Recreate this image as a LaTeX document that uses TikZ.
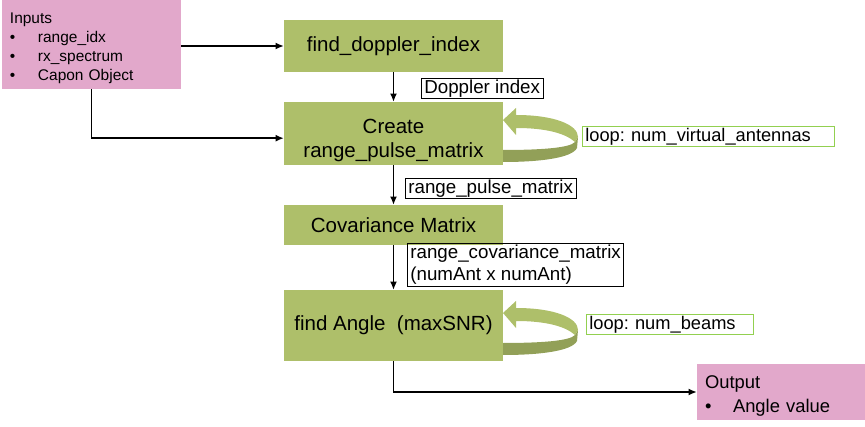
\documentclass[tikz,border=0pt]{standalone}
\usepackage{fontspec}
\setmainfont{Liberation Sans}
\usepackage{tikz}
\usetikzlibrary{arrows.meta,positioning}
\frenchspacing

\definecolor{boxgreen}{RGB}{174,191,106}
\definecolor{loopdark}{RGB}{146,160,88}
\definecolor{inpink}{RGB}{226,168,203}
\definecolor{tagline}{RGB}{146,208,80}

\newcommand{\bulletitem}{\makebox[0.84cm][l]{\textbullet}}

\begin{document}
\begin{tikzpicture}[x=0.03cm, y=-0.03cm,
stage/.style={rectangle, fill=boxgreen, minimum width=6.57cm, align=center, inner sep=0pt, font=\fontsize{17.5}{21.3}\selectfont},
io/.style={rectangle, fill=inpink, align=left, inner xsep=0.24cm, inner ysep=0pt, font=\fontsize{13.2}{16.2}\selectfont},
tag/.style={rectangle, draw, line width=0.6pt, align=left, inner xsep=0.09cm, inner ysep=1.2pt, font=\fontsize{16}{18.8}\selectfont},
looptag/.style={tag, draw=tagline, font=\fontsize{15.6}{18.5}\selectfont},
flow/.style={-{Latex[length=7pt,width=6pt]}, line width=1.2pt},
loopback/.pic={
  \fill[loopdark] (75,17) -- (74,28) .. controls (69,38) and (37,42) .. (0,42) -- (0,30) .. controls (37,30) and (67,28) .. (72,22) -- cycle;
  \fill[boxgreen] (0,0) -- (13,-12) -- (13,-5) .. controls (52,-5) and (75,5) .. (75,17) -- (72,22) .. controls (62,13) and (42,8) .. (13,8) -- (13,15) -- cycle;
}
]
\useasboundingbox (0,0) rectangle (865,427);
\node[io, minimum width=5.37cm, minimum height=2.67cm, text width=4.89cm] (inputs) at (91.5,44.5)
  {\raisebox{-0.1cm}[\height][\depth]{\begin{tabular}{@{}l@{}}Inputs\\\bulletitem range\_idx\\\bulletitem rx\_spectrum\\\bulletitem Capon Object\end{tabular}}};
\node[stage, minimum height=1.56cm] (doppler) at (393.5,46) {find\_doppler\_index};
\node[stage, minimum height=1.89cm] (pulse) at (393.5,133.5)
  {\raisebox{-0.21cm}[\height][\depth]{\begin{tabular}{@{}c@{}}Create\\range\_pulse\_matrix\end{tabular}}};
\node[stage, minimum height=1.2cm] (covar) at (393.5,225) {Covariance Matrix};
\node[stage, minimum height=2.13cm] (angle) at (393.5,325.5) {find Angle\ \ (maxSNR)};
\node[io, minimum width=5.04cm, minimum height=1.68cm, text width=4.56cm, font=\fontsize{15.7}{20.5}\selectfont] (output) at (781,392)
  {\raisebox{-0.1cm}[\height][\depth]{\begin{tabular}{@{}l@{}}Output\\\bulletitem Angle value\end{tabular}}};
\node[tag, anchor=west] (dopplertag) at (421,88.5) {Doppler index};
\node[tag, anchor=west] (pulsetag) at (405,188.5) {range\_pulse\_matrix};
\node[tag, anchor=west] (covartag) at (407,265) {range\_covariance\_matrix\\(numAnt x numAnt)};
\node[looptag, anchor=west, text width=7.38cm] (antennatag) at (582,136.5) {loop: num\_virtual\_antennas};
\node[looptag, anchor=west, text width=4.83cm] (beamtag) at (586,324.5) {loop: num\_beams};
\pic (antennaloop) at (503,120) {loopback};
\pic (beamloop) at (503,313) {loopback};
\draw[flow] (inputs.east |- doppler) -- (doppler);
\draw[flow] (inputs.south) |- ([yshift=-4pt]pulse.west);
\draw[flow] (doppler) -- (pulse);
\draw[flow] (pulse) -- (covar);
\draw[flow] (covar) -- (angle);
\draw[flow] (angle.south) |- (output.west);
\end{tikzpicture}
\end{document}
